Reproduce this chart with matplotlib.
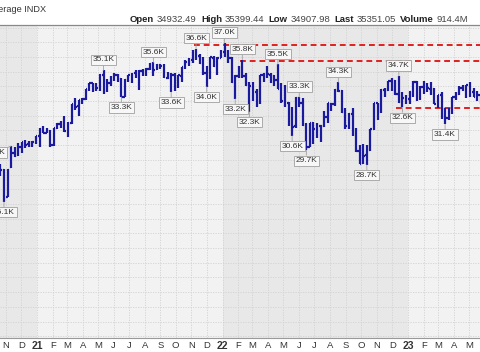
import numpy as np
import pandas as pd
import matplotlib
matplotlib.use('Agg')
import matplotlib.pyplot as plt

plt.rcParams['font.family'] = ['Liberation Sans', 'DejaVu Sans']

# weekly bars, first week starts 2020-10-19
first_week = '2020-10-19'

opens = [
    # 2020
    28600, 28300, 26500, 28500, 29500, 29300, 29900, 30200, 30050, 30180, 30250,
    # 2021
    30600, 31050, 30850, 30950, 30000, 31150, 31450, 31500, 30950, 31500,
    32780, 32650, 33050, 33150, 33800, 34200, 34050, 33900, 34800, 34400,
    34200, 34550, 34750, 34500, 33300, 34450, 34800, 34900, 34650, 35050,
    34950, 35200, 35500, 35150, 35450, 35350, 34600, 34500, 34800, 34300,
    34700, 35300, 35700, 35800, 36300, 36100, 35600, 34900, 34600, 35950,
    35300, 35950,
    # 2022
    36350, 36200, 35900, 34250, 34700, 35100, 34700, 34000, 34000, 33600,
    32950, 34750, 34850, 34800, 34700, 34450, 33800, 33000, 32900, 32200,
    31300, 33200, 32900, 31400, 29900, 31500, 31100, 31300, 31300, 31900,
    32800, 32800, 33750, 33700, 32300, 31300, 32150, 30800, 29600, 28800,
    29300, 29650, 31100, 32850, 32400, 33750, 33750, 34350, 34400, 33500,
    32900, 33200,
    # 2023
    33150, 33600, 34300, 33400, 33950, 33900, 33850, 33800, 32800, 33400,
    31900, 31850, 32250, 33250, 33500, 33900, 33800, 34100, 33650, 33300,
    33400,
]

highs = [
    28700, 28400, 28350, 29933, 29900, 30116, 30218, 30320, 30300, 30300, 30637,
    31193, 31272, 31188, 31000, 31200, 31500, 31650, 32010, 31600, 32800,
    33227, 33100, 33200, 33850, 34250, 34256, 34200, 34811, 35091, 34500,
    34700, 34900, 34849, 34600, 34500, 34800, 34900, 35100, 35100, 35171,
    35250, 35600, 35631, 35500, 35500, 35500, 35000, 34900, 34900, 34800,
    35300, 35800, 35900, 36500, 36565, 36200, 36000, 35400, 36000, 36100,
    36000, 36500,
    36952, 36500, 36000, 34800, 35400, 35824, 34900, 34300, 34300, 33800,
    34800, 34900, 35372, 34900, 34800, 35492, 34200, 34100, 32950, 32600,
    33300, 33273, 33200, 31500, 31500, 31550, 31500, 31400, 32300, 32900,
    32900, 33800, 34281, 33750, 32500, 32200, 32500, 31200, 30000, 30100,
    30000, 31100, 32900, 32900, 33800, 33900, 34400, 34600, 34450, 34712,
    33600, 33400,
    33700, 34350, 34350, 34000, 34335, 34200, 34300, 33900, 33400, 33600,
    32500, 32500, 33300, 33600, 34000, 34100, 34100, 34300, 33900, 33700,
    33450,
]

lows = [
    27900, 26143, 26450, 28450, 29200, 29250, 29500, 29800, 29900, 29900, 30100,
    29881, 30800, 30800, 29856, 29950, 31100, 31200, 30900, 30550, 31450,
    32400, 32000, 32800, 33100, 33700, 33600, 33700, 33700, 33473, 33600,
    34000, 34400, 34300, 33271, 33250, 34300, 34200, 34600, 33741, 34700,
    34700, 35100, 34700, 35100, 35200, 34600, 34500, 33613, 33700, 33900,
    34300, 35200, 35400, 35600, 35800, 35500, 34800, 33980, 34500, 35300,
    34800, 35900,
    36000, 35600, 34250, 33150, 34600, 34600, 34000, 32272, 33000, 32600,
    32800, 34300, 34600, 34200, 34000, 33800, 32900, 32600, 31300, 30636,
    31200, 32600, 31300, 29653, 29850, 30100, 30500, 30200, 31250, 31500,
    32300, 32700, 33600, 32200, 31100, 31100, 30600, 29550, 28700, 28750,
    28660, 29600, 31000, 31700, 32200, 33300, 33700, 33700, 33400, 32900,
    32573, 32800,
    32800, 33300, 33000, 33100, 33500, 33600, 33400, 32800, 32500, 31800,
    31429, 31700, 32100, 33100, 33400, 33700, 33200, 33300, 33300, 33000,
    32800,
]

closes = [
    28335, 26502, 28323, 29480, 29263, 29910, 30218, 30046, 30179, 30199, 30606,
    31097, 30814, 30997, 29983, 31148, 31458, 31494, 30932, 31496, 32779,
    32628, 33072, 33153, 33800, 34200, 34043, 33874, 34778, 34382, 34208,
    34529, 34756, 34480, 33290, 34433, 34786, 34870, 34687, 35061, 34935,
    35208, 35515, 35120, 35455, 35369, 34607, 34584, 34798, 34326, 34746,
    35295, 35677, 35820, 36328, 36100, 35602, 34899, 34580, 35971, 35365,
    35950, 36338,
    36231, 35912, 34265, 34725, 35089, 34738, 34079, 34059, 33614, 32944,
    34755, 34861, 34818, 34721, 34451, 33811, 32977, 32899, 32196, 31262,
    33213, 32900, 31393, 29888, 31480, 31097, 31338, 31288, 31899, 32845,
    32803, 33761, 33706, 32283, 31318, 32151, 30822, 29590, 28726, 29297,
    29635, 31083, 32862, 32403, 33748, 33746, 34347, 34430, 33477, 32920,
    33203, 33147,
    33631, 34303, 33375, 33978, 33926, 33869, 33827, 32817, 33391, 31910,
    31862, 32238, 33274, 33485, 33886, 33809, 34098, 33675, 33300, 33427,
    33093,
]

# price labels on swing highs / lows
label_texts = ['29.9K', '26.1K', '35.1K', '33.3K', '35.6K', '33.6K', '36.6K',
               '34.0K', '35.8K', '37.0K', '33.2K', '32.3K', '35.5K', '33.3K',
               '30.6K', '29.7K', '34.3K', '28.7K', '34.7K', '32.6K', '31.4K']
label_weeks = ['2020-11-09', '2020-10-26', '2021-05-10', '2021-06-14',
               '2021-08-16', '2021-09-20', '2021-11-08', '2021-11-29',
               '2022-02-07', '2022-01-03', '2022-01-24', '2022-02-21',
               '2022-04-18', '2022-05-30', '2022-05-16', '2022-06-13',
               '2022-08-15', '2022-10-10', '2022-12-12', '2022-12-19',
               '2023-03-13']
label_sides = ['high', 'low', 'high', 'low', 'high', 'low', 'high', 'low',
               'high', 'high', 'low', 'low', 'high', 'high', 'low', 'low',
               'high', 'low', 'high', 'low', 'low']

# red dashed levels
level_values = [36800, 35700, 32550]
level_starts = ['2021-11-06', '2022-02-05', '2022-12-08']

header_keys = ['Open', 'High', 'Low', 'Last', 'Volume']
header_vals = ['34932.49', '35399.44', '34907.98', '35351.05', '914.4M']

assert len(opens) == len(highs) == len(lows) == len(closes)

origin = pd.Timestamp('2021-01-01')
weeks = pd.date_range(first_week, periods=len(closes), freq='7D')
x = np.array((weeks - origin).days, dtype=float) + 2

W, H = 480, 352
fig = plt.figure(figsize=(W / 100, H / 100), dpi=100)
top_px, bot_px = 25, 338
ax = fig.add_axes([0, (H - bot_px) / H, 1, (bot_px - top_px) / H])

px_per_day = 185.5 / 365
ax.set_xlim(-37 / px_per_day, (W - 37) / px_per_day)
ppt = 0.0147  # pixels per point
ax.set_ylim(36952 - (bot_px - 43) / ppt, 36952 + (43 - top_px) / ppt)

# alternating year shading
ax.set_facecolor('#f2f2f2')
ax.axvspan(-400, 0, color='#e8e8e8', lw=0, zorder=0)
ax.axvspan(365, 730, color='#e8e8e8', lw=0, zorder=0)

# month ticks
months = pd.date_range('2020-11-01', '2023-05-01', freq='MS')
mx = np.array((months - origin).days, dtype=float)
mlabels = [str(m.year)[2:] if m.month == 1 else m.strftime('%b')[0] for m in months]
ax.set_xticks(mx)
ax.set_xticklabels(mlabels)
for t, m in zip(ax.get_xticklabels(), months):
    t.set_fontsize(6.8)
    t.set_color('#333333')
    if m.month == 1:
        t.set_fontweight('bold')
        t.set_fontsize(7.5)
ax.tick_params(axis='x', length=0, pad=2.5)
ax.set_yticks(np.arange(17000, 39000, 1000))
ax.tick_params(axis='y', left=False, labelleft=False)
ax.grid(True, color='#d2d2d2', lw=0.6, ls=(0, (1.5, 1.5)), zorder=0.5)

for s in ['left', 'right']:
    ax.spines[s].set_visible(False)
ax.spines['top'].set_color('#888888')
ax.spines['top'].set_linewidth(0.9)
ax.spines['bottom'].set_color('#999999')
ax.spines['bottom'].set_linestyle((0, (1, 1)))
ax.spines['bottom'].set_linewidth(0.8)

# dashed levels
for lv, st in zip(level_values, level_starts):
    sx = (pd.Timestamp(st) - origin).days
    ax.hlines(lv, sx, 2000, color='#e02020', lw=1.4, ls=(0, (3, 2)), zorder=2)

# OHLC bars
bar_c = '#1a1a9e'
tick = 2.8
ax.vlines(x, lows, highs, color=bar_c, lw=1.6, zorder=3)
ax.hlines(opens, x - tick, x, color=bar_c, lw=1.6, zorder=3)
ax.hlines(closes, x, x + tick, color=bar_c, lw=1.6, zorder=3)

# labels
box = dict(boxstyle='square,pad=0.2', fc='#f7f7f7', ec='#a0a0a0', lw=0.6)
for txt, wk, side in zip(label_texts, label_weeks, label_sides):
    i = weeks.get_loc(pd.Timestamp(wk))
    if side == 'high':
        xy = (x[i], highs[i])
        off = (0, 7.5)
    else:
        xy = (x[i], lows[i])
        off = (0, -7.5)
    if txt == '29.9K':
        off = (-12, -4.5)
    ax.annotate(txt, xy=xy, xytext=off, textcoords='offset points',
                ha='center', va='center', fontsize=6, color='#333333',
                bbox=box, zorder=5,
                arrowprops=dict(arrowstyle='-', color='#a0a0a0', lw=0.6,
                                shrinkA=0, shrinkB=0))

# title and header
fig.text(46 / W, 1 - 9 / H, 'Dow Jones Industrial Average INDX', ha='right',
         va='center', fontsize=6.6, color='#333333')

renderer = fig.canvas.get_renderer()
cur = 130
for k, v in zip(header_keys, header_vals):
    t = fig.text(cur / W, 1 - 20 / H, k, ha='left', va='center', fontsize=6.8,
                 fontweight='bold', color='#222222')
    cur = t.get_window_extent(renderer).x1 + 2.5
    t = fig.text(cur / W, 1 - 20 / H, v, ha='left', va='center', fontsize=6.8,
                 color='#444444')
    cur = t.get_window_extent(renderer).x1 + 4.5

fig.savefig('out.png', dpi=100, facecolor='white')
